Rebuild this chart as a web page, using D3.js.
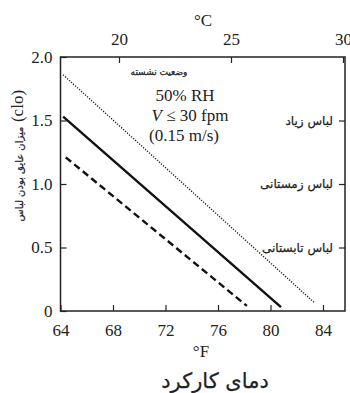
<!DOCTYPE html>
<html>
<head>
<meta charset="utf-8">
<script src="https://cdn.jsdelivr.net/npm/d3@7"></script>
<style>
body{margin:0;background:#fff;}
svg{display:block;}
.num, .tick text{font-family:"Liberation Serif","Times New Roman",serif;font-size:17px;fill:#222;}
.fa{font-family:"DejaVu Sans",sans-serif;fill:#222;stroke:#222;stroke-width:0.25px;}
</style>
</head>
<body>
<svg></svg>
<script>
// temperature ticks
var fTicks = [64,68,72,76,80,84]
var cTicks = [20,25,30]
var cloTicks = [0,0.5,1.0,1.5,2.0]

// lines: [start F, start clo], [end F, end clo]
var heavyClothing = [[64.2,1.86],[83.4,0.06]]
var winterClothing = [[64.2,1.53],[80.8,0.03]]
var summerClothing = [[64.4,1.21],[78.2,0.04]]

// clothing labels on the right axis
var clothLabels = ["لباس زیاد","لباس زمستانی","لباس تابستانی"]
var clothLevels = [1.5,1.0,0.5]

var screen = {width:350,height:393}
var margins = {left:60.5,right:5,top:57,bottom:82}
var graph = {
    width:screen.width-margins.left-margins.right,
    height:screen.height-margins.top-margins.bottom
}

var svg = d3.select("svg")
    .attr("width",screen.width)
    .attr("height",screen.height)

var xScale = d3.scaleLinear()
    .domain([64,64+graph.width/13.125])
    .range([0,graph.width])
// top axis drawn as in the print, own linear spacing
var cScale = d3.scaleLinear()
    .domain([20,25])
    .range([58.5,170.5])
var yScale = d3.scaleLinear()
    .domain([0,2])
    .range([graph.height,0])

var target = svg.append("g")
    .attr("transform","translate("+margins.left+","+margins.top+")")

// frame
target.append("rect")
    .attr("width",graph.width)
    .attr("height",graph.height)
    .attr("fill","none")
    .attr("stroke","#222")
    .attr("stroke-width",1.5)

var styleAxis = function(g)
{
    g.select(".domain").remove()
    g.selectAll(".tick line").attr("stroke","#222").attr("stroke-width",1.2)
}

target.append("g")
    .attr("transform","translate(0,"+graph.height+")")
    .call(d3.axisBottom(xScale).tickValues(fTicks).tickSize(-6).tickPadding(13).tickFormat(d3.format("d")))
    .call(styleAxis)

target.append("g")
    .call(d3.axisTop(cScale).tickValues(cTicks).tickSize(-6).tickPadding(12).tickFormat(d3.format("d")))
    .call(styleAxis)

target.append("g")
    .call(d3.axisLeft(yScale).tickValues(cloTicks).tickSize(-6).tickPadding(8)
        .tickFormat(function(d){return d==0?"0":d3.format(".1f")(d)}))
    .call(styleAxis)

target.append("g")
    .attr("transform","translate("+graph.width+",0)")
    .call(d3.axisRight(yScale).tickValues(clothLevels).tickSize(-6).tickFormat(""))
    .call(styleAxis)

// lines
var line = d3.line()
    .x(function(d){return xScale(d[0])})
    .y(function(d){return yScale(d[1])})

target.append("path").datum(heavyClothing)
    .attr("d",line).attr("fill","none").attr("stroke","#222")
    .attr("stroke-width",1.4).attr("stroke-dasharray","1.2,1.5")
target.append("path").datum(winterClothing)
    .attr("d",line).attr("fill","none").attr("stroke","#111")
    .attr("stroke-width",2.4)
target.append("path").datum(summerClothing)
    .attr("d",line).attr("fill","none").attr("stroke","#111")
    .attr("stroke-width",2.4).attr("stroke-dasharray","7,4")

// right side labels
target.selectAll(".cloth")
    .data(clothLabels)
    .enter()
    .append("text")
    .attr("class","fa")
    .attr("font-size",12)
    .attr("direction","rtl")
    .attr("text-anchor","start")
    .attr("x",graph.width-12)
    .attr("y",function(d,i){return yScale(clothLevels[i])+4})
    .text(function(d){return d})

// conditions box text
var Labels = svg.append("g")
Labels.append("text").attr("class","fa").attr("font-size",9)
    .attr("text-anchor","middle").attr("x",159).attr("y",75)
    .text("وضعیت نشسته")
Labels.append("text").attr("class","num").attr("font-size",18).attr("text-anchor","middle")
    .attr("x",185).attr("y",101).text("50% RH")
Labels.append("text").attr("class","num").attr("text-anchor","middle")
    .attr("x",190).attr("y",121).html("<tspan font-style='italic'>V</tspan> ≤ 30 fpm")
Labels.append("text").attr("class","num").attr("text-anchor","middle")
    .attr("x",184).attr("y",141).text("(0.15 m/s)")

// axis titles
Labels.append("text").attr("class","num").attr("text-anchor","middle")
    .attr("x",203).attr("y",26).text("°C")
Labels.append("text").attr("class","num").attr("text-anchor","middle")
    .attr("x",201).attr("y",357).text("°F")
Labels.append("text").attr("class","fa").attr("font-size",21)
    .attr("text-anchor","middle").attr("x",215).attr("y",388)
    .text("دمای کارکرد")

var yTitle = Labels.append("g").attr("transform","translate(23,0) rotate(-90)")
yTitle.append("text").attr("class","fa").attr("font-size",10)
    .attr("text-anchor","middle").attr("x",-174).attr("y",0)
    .text("میزان عایق بودن لباس")
yTitle.append("text").attr("class","num").attr("font-size",14)
    .attr("text-anchor","middle").attr("x",-106).attr("y",0)
    .text("(clo)")
</script>
</body>
</html>
